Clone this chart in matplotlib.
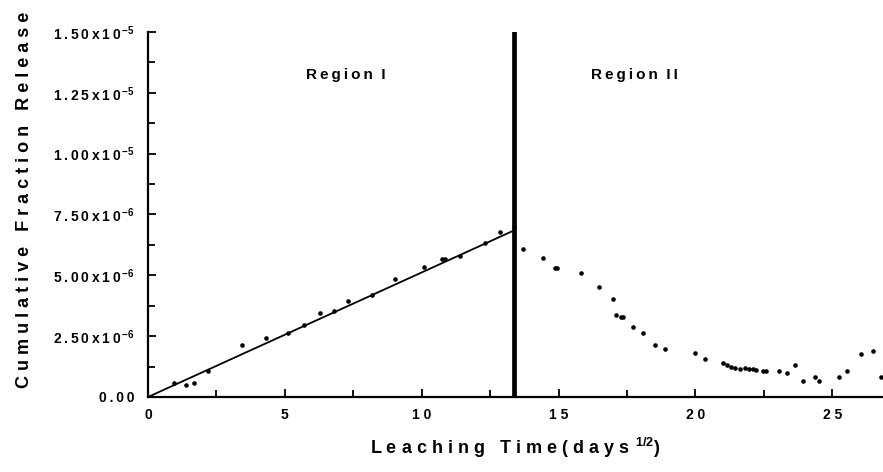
import matplotlib
matplotlib.use("Agg")
import matplotlib.pyplot as plt
from matplotlib.ticker import FixedLocator, FuncFormatter

plt.rcParams['font.family'] = ['Liberation Sans', 'DejaVu Sans']
plt.rcParams['font.weight'] = 'bold'
plt.rcParams['mathtext.fontset'] = 'custom'
plt.rcParams['mathtext.rm'] = 'Liberation Sans:bold'
plt.rcParams['mathtext.bf'] = 'Liberation Sans:bold'

# Region I (x in days^1/2, y in units of 1e-6)
x1 = [0.95, 1.39, 1.68, 2.21, 3.45, 4.31, 5.13, 5.70, 6.30, 6.81, 7.32, 8.20,
      9.01, 10.10, 10.74, 10.84, 11.41, 12.30, 12.87, 13.36]
y1 = [0.56, 0.48, 0.56, 1.06, 2.12, 2.41, 2.64, 2.96, 3.44, 3.55, 3.95, 4.21,
      4.84, 5.33, 5.66, 5.66, 5.80, 6.33, 6.77, 6.97]

# Region II
x2 = [13.69, 14.42, 14.85, 14.95, 15.80, 16.47, 16.98, 17.11, 17.27, 17.36,
      17.71, 18.07, 18.51, 18.88, 19.97, 20.34, 21.00, 21.16, 21.30, 21.46,
      21.64, 21.80, 21.96, 22.10, 22.20, 22.46, 22.59, 23.05, 23.34, 23.63,
      23.92, 24.36, 24.51, 25.24, 25.54, 26.04, 26.48, 26.78]
y2 = [6.08, 5.70, 5.29, 5.29, 5.08, 4.51, 4.02, 3.37, 3.28, 3.28,
      2.86, 2.62, 2.12, 1.96, 1.80, 1.55, 1.38, 1.30, 1.22, 1.19,
      1.14, 1.18, 1.14, 1.15, 1.11, 1.06, 1.06, 1.06, 1.00, 1.30,
      0.64, 0.82, 0.64, 0.82, 1.06, 1.75, 1.88, 0.82]

# linear fit through region I
fit_x = [0.0, 13.38]
fit_y = [0.0, 6.85]

boundary = 13.38
y_ticks = [0.0, 2.5, 5.0, 7.5, 10.0, 12.5, 15.0]
y_tick_labels = ['0.00', '2.50x10^-6', '5.00x10^-6', '7.50x10^-6',
                 '1.00x10^-5', '1.25x10^-5', '1.50x10^-5']
x_ticks = [0, 5, 10, 15, 20, 25]

TS = '\u2009'  # thin space used as letter spacing


def spaced(s, gap=TS):
    return gap.join(list(s))


def ylab(v, pos):
    for t, lab in zip(y_ticks, y_tick_labels):
        if abs(t - v) < 1e-9:
            if '^' in lab:
                base, exp = lab.split('^')
                return spaced(base) + r'$^{\,\mathbf{' + exp + '}}$'
            return spaced(lab)
    return ''


fig = plt.figure(figsize=(8.83, 4.72), dpi=100)
ax = fig.add_axes([148 / 883, 1 - 397 / 472, 1 - 148 / 883, (397 - 32) / 472])

ax.plot(x1, y1, 'o', color='black', markersize=3.3, markeredgewidth=0)
ax.plot(x2, y2, 'o', color='black', markersize=3.3, markeredgewidth=0)
ax.plot(fit_x, fit_y, color='black', lw=1.3)
ax.plot([boundary, boundary], [0, 15], color='black', lw=3.4)

ax.set_xlim(0, 26.85)
ax.set_ylim(0, 15)

ax.spines['top'].set_visible(False)
ax.spines['right'].set_visible(False)
ax.spines['left'].set_linewidth(1.6)
ax.spines['bottom'].set_linewidth(1.6)

ax.xaxis.set_major_locator(FixedLocator(x_ticks))
ax.xaxis.set_minor_locator(FixedLocator([2.5, 7.5, 12.5, 17.5, 22.5]))
ax.xaxis.set_major_formatter(FuncFormatter(lambda v, p: spaced(str(int(v)), ' ')))
ax.yaxis.set_major_locator(FixedLocator(y_ticks))
ax.yaxis.set_minor_locator(FixedLocator([1.25, 3.75, 6.25, 8.75, 11.25, 13.75]))
ax.yaxis.set_major_formatter(FuncFormatter(ylab))

ax.tick_params(which='both', direction='in', width=1.3, labelsize=10)
ax.tick_params(which='major', length=6)
ax.tick_params(which='minor', length=5)
ax.tick_params(axis='y', pad=10)
ax.tick_params(axis='x', pad=8)

ax.set_ylabel('C u m u l a t i v e   F r a c t i o n   R e l e a s e',
              fontsize=13, fontweight='bold')
ax.yaxis.set_label_coords(-0.156, 0.54)
ax.set_xlabel(r'L e a c h i n g   T i m e ( d a y s $^{\,\mathbf{1/2}}$)',
              fontsize=13, fontweight='bold', labelpad=10)

ax.text(7.23, 13.23, spaced('Region') + '  I', fontsize=11, fontweight='bold',
        ha='center', va='center')
ax.text(17.77, 13.23, spaced('Region') + '  I' + TS + 'I', fontsize=11,
        fontweight='bold', ha='center', va='center')

fig.savefig('out.png', dpi=100)
